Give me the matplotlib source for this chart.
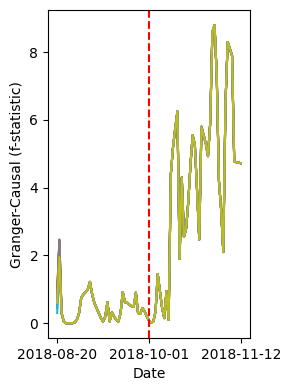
import matplotlib

matplotlib.use("Agg")
import matplotlib.pyplot as plt
import matplotlib.dates as mdates
import numpy as np
import pandas as pd

START = "2018-08-20"
EVENT = "2018-10-01"
TICKS = ["2018-08-20", "2018-10-01", "2018-11-12"]

# shared trajectory from day 2 onward (daily f-statistic)
BASE = [
    0.30, 0.05, 0.00, 0.00, 0.00, 0.00, 0.02, 0.10, 0.30, 0.75,
    0.85, 0.92, 1.00, 1.22, 0.85, 0.60, 0.45, 0.30, 0.15, 0.05,
    0.20, 0.62, 0.05, 0.32, 0.20, 0.10, 0.05, 0.30, 0.92, 0.62,
    0.60, 0.55, 0.50, 0.48, 0.90, 0.30, 0.28, 0.45, 0.35, 0.20,
    0.08, 0.02, 0.05, 0.35, 1.45, 0.95, 0.45, 0.15, 0.95, 0.10,
    4.40, 5.20, 5.75, 6.25, 1.90, 4.30, 2.55, 2.80, 3.60, 4.70,
    5.55, 5.25, 3.90, 2.47, 5.80, 5.55, 5.30, 4.93, 5.90, 8.60,
    8.80, 7.30, 4.20, 3.35, 2.10, 6.50, 8.30, 8.10, 7.90, 4.78,
    4.75, 4.74, 4.72,
]

# series differ only in their first two days
SERIES_START = {
    "tab:blue":   [0.45, 2.20],
    "tab:orange": [1.05, 2.30],
    "tab:green":  [0.70, 2.40],
    "tab:red":    [0.80, 2.45],
    "tab:purple": [0.55, 2.10],
    "tab:brown":  [0.90, 2.47],
    "tab:pink":   [0.65, 2.35],
    "tab:cyan":   [0.30, 2.00],
    "tab:gray":   [0.75, 2.45],
    "tab:olive":  [0.60, 1.95],
}


def main():
    n = len(BASE) + 2
    dates = pd.date_range(START, periods=n, freq="D")

    fig, ax = plt.subplots(figsize=(2.91, 3.9), dpi=100)
    fig.subplots_adjust(left=0.165, right=0.859, top=0.974, bottom=0.133)

    for color, head in SERIES_START.items():
        ax.plot(dates, np.array(head + BASE), color=color, linewidth=1.5)

    ax.axvline(pd.Timestamp(EVENT), color="red", linestyle="--", linewidth=1.5)

    ax.set_xticks([pd.Timestamp(t) for t in TICKS])
    ax.xaxis.set_major_formatter(mdates.DateFormatter("%Y-%m-%d"))
    ax.set_xlabel("Date")
    ax.set_ylabel("Granger-Causal (f-statistic)")

    fig.savefig("out.png", dpi=100)
    plt.close(fig)


if __name__ == "__main__":
    main()
